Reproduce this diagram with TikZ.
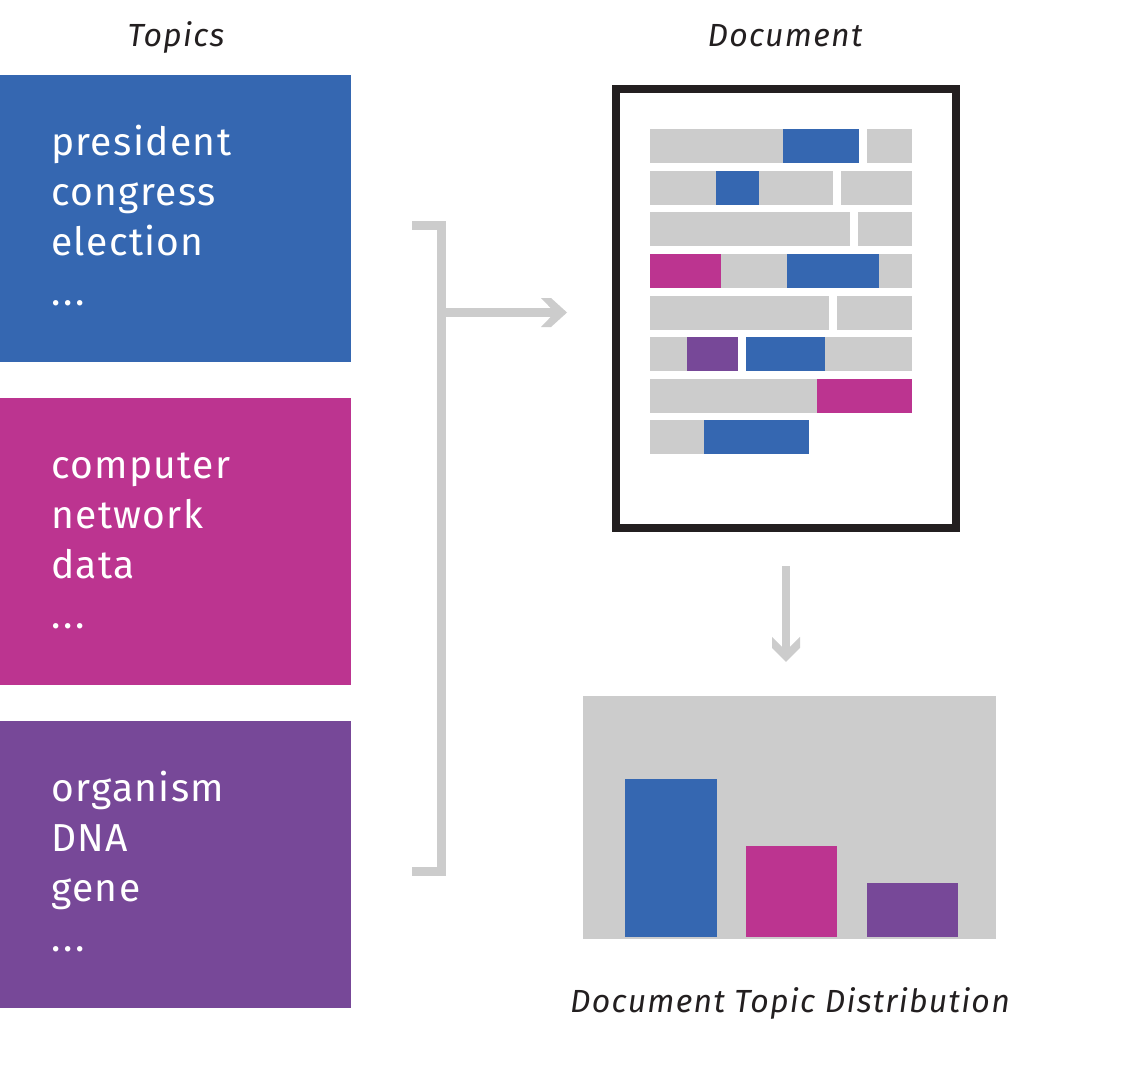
\documentclass[tikz,border=0pt]{standalone}
\usepackage{fontspec}
\setmainfont{Fira Sans}
\newfontfamily\wordfont{Fira Sans}[LetterSpace=3.5]
\newfontfamily\ttlfont{Fira Sans}[LetterSpace=4]
\usetikzlibrary{calc}
\definecolor{tblue}{HTML}{3567B1}
\definecolor{tmag}{HTML}{BC3490}
\definecolor{tpur}{HTML}{774898}
\definecolor{tgray}{HTML}{CCCCCC}
\definecolor{tdark}{HTML}{231F20}
\tikzset{
  topicbox/.style={rectangle, inner sep=0pt, minimum width=351pt, minimum height=287pt, draw=none},
  word/.style={anchor=base west, inner sep=0pt, text=white, font=\wordfont\fontsize{39}{50}\selectfont},
  ttl/.style={anchor=base, inner sep=0pt, text=tdark, font=\ttlfont\fontsize{32}{40}\selectfont\itshape},
  conn/.style={draw=tgray, line width=9pt},
  chevR/.pic={\fill[tgray] (-26,-14.5) -- (-16,-14.5) -- (0,0) -- (-16,14.5) -- (-26,14.5) -- (-12,0) -- cycle;},
  chevD/.pic={\fill[tgray] (-14,-25) -- (0,-11) -- (14,-25) -- (14,-14) -- (0,0) -- (-14,-14) -- cycle;},
}
\newcommand{\docbar}[4]{\fill[#4] (#1,#3) rectangle (#2,#3+33.5);}
\newcommand{\tdots}{.\kern3pt.\kern3pt.}
\begin{document}
\begin{tikzpicture}[x=1pt,y=-1pt]
\useasboundingbox[fill=white] (0,0) rectangle (1125,1071);

% titles
\node[ttl] (topics) at (176,46) {Topics};
\node[ttl] (doctitle) at (785,46) {Document};
\node[ttl] (disttitle) at (790,1012) {Document Topic Distribution};

% topic boxes
\node[topicbox, fill=tblue] (t1) at (175.5,218.5) {};
\node[topicbox, fill=tmag] (t2) at (175.5,541.5) {};
\node[topicbox, fill=tpur] (t3) at (175.5,864.5) {};
\node[word] (a1) at (51,155) {president};
\node[word] (a2) at (51,205) {congress};
\node[word] (a3) at (51,255) {election};
\node[word] (a4) at (51,305) {\tdots};
\node[word] (b1) at (51,478) {computer};
\node[word] (b2) at (51,528) {network};
\node[word] (b3) at (51,578) {data};
\node[word] (b4) at (51,628) {\tdots};
\node[word] (c1) at (51,801) {organism};
\node[word] (c2) at (51,851) {DNA};
\node[word] (c3) at (51,901) {gene};
\node[word] (c4) at (51,951) {\tdots};

% document
\node[rectangle, draw=tdark, line width=8pt, fill=white, inner sep=0pt,
      minimum width=340pt, minimum height=439.5pt] (doc) at (786,308.25) {};
\docbar{650}{783}{129}{tgray}\docbar{783}{859}{129}{tblue}\docbar{867}{912}{129}{tgray}
\docbar{650}{716}{171}{tgray}\docbar{716}{759}{171}{tblue}\docbar{759}{833}{171}{tgray}\docbar{841}{912}{171}{tgray}
\docbar{650}{850}{212}{tgray}\docbar{858}{912}{212}{tgray}
\docbar{650}{721}{254}{tmag}\docbar{721}{787}{254}{tgray}\docbar{787}{879}{254}{tblue}\docbar{879}{912}{254}{tgray}
\docbar{650}{829}{296}{tgray}\docbar{837}{912}{296}{tgray}
\docbar{650}{687}{337}{tgray}\docbar{687}{738}{337}{tpur}\docbar{746}{825}{337}{tblue}\docbar{825}{912}{337}{tgray}
\docbar{650}{817}{379}{tgray}\docbar{817}{912}{379}{tmag}
\docbar{650}{704}{420}{tgray}\docbar{704}{809}{420}{tblue}

% distribution
\node[rectangle, fill=tgray, inner sep=0pt, minimum width=413pt, minimum height=243pt] (dist) at (789.5,817.5) {};
\fill[tblue] (625,779) rectangle (717,937);
\fill[tmag] (746,846) rectangle (837,937);
\fill[tpur] (867,883) rectangle (958,937);

% bracket
\coordinate (bTL) at (412,225);
\coordinate (bTR) at (441,225);
\coordinate (bBR) at (441,871);
\coordinate (bBL) at (412,871);
\draw[conn, line join=miter] (bTL) -- (bTR) -- (bBR) -- (bBL);
\coordinate (brk) at (441,312.5);
\coordinate (tipR) at ($(doc.west |- brk)+(-45,0)$);
\draw[conn] (brk) -- ($(tipR)+(-10,0)$);
\pic at (tipR) {chevR};

% down arrow
\coordinate (dA) at ($(doc.south)+(0,34)$);
\coordinate (tipD) at ($(dA |- dist.north)+(0,-34)$);
\draw[draw=tgray, line width=8pt] (dA) -- ($(tipD)+(0,-9)$);
\pic at (tipD) {chevD};
\end{tikzpicture}
\end{document}
